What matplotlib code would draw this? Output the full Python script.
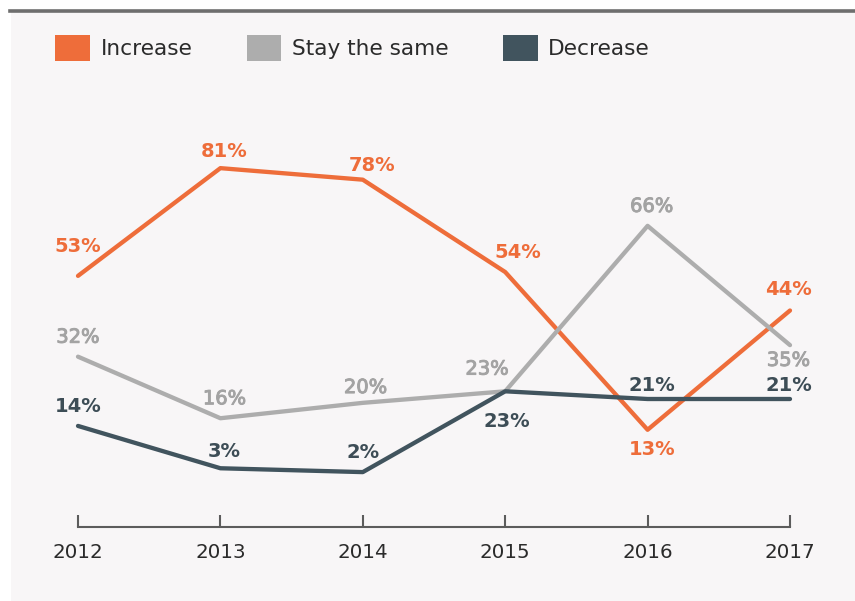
import matplotlib
matplotlib.use("Agg")
import matplotlib.pyplot as plt
import matplotlib.patheffects as pe
from matplotlib.patches import Patch, Rectangle
from matplotlib.lines import Line2D

# survey answers per year, in percent
years = [2012, 2013, 2014, 2015, 2016, 2017]
increase = [53, 81, 78, 54, 13, 44]
same = [32, 16, 20, 23, 66, 35]
decrease = [14, 3, 2, 23, 21, 21]

# label offsets (points) from each point
inc_off = [(0, 21), (3, 12), (7, 10), (9, 14), (3, -14), (-1, 15)]
same_off = [(0, 14), (3, 14), (2, 11), (-13, 16), (3, 14), (-1, -11)]
dec_off = [(0, 14), (3, 12), (0, 14), (1, -22), (3, 10), (-1, 10)]

orange = "#ee6d3a"
grey = "#adadad"
grey_txt = "#a3a3a3"
slate = "#41545e"
slate_txt = "#3d4d56"

plt.rcParams["font.family"] = ["DejaVu Sans"]

fig = plt.figure(figsize=(8.55, 6.01), dpi=100)
fig.patch.set_facecolor("white")
W, H = 855, 601

# light panel and dark rule on top
fig.add_artist(Rectangle((11 / W, 0), 1, 1 - 12 / H, transform=fig.transFigure,
                         facecolor="#f8f6f7", edgecolor="none", zorder=0))
fig.add_artist(Line2D([10 / W, 1], [1 - 11 / H] * 2, transform=fig.transFigure,
                      color="#6e6e6e", lw=2.6, zorder=1))

ax = fig.add_axes([0, 0, 1, 1])
ax.set_facecolor("none")
ax.set_xlim(2012 - 78 / 142.4, 2017 + 65 / 142.4)
ax.set_ylim(-31.5, 124.7)

series = [
    (increase, orange, orange, "bold", inc_off),
    (same, grey, grey_txt, "normal", same_off),
    (decrease, slate, slate_txt, "bold", dec_off),
]
for vals, col, tcol, wt, offs in series:
    ax.plot(years, vals, color=col, lw=3.1, solid_joinstyle="round",
            solid_capstyle="round", zorder=3)
for vals, col, tcol, wt, offs in series:
    # the grey labels are a touch heavier than regular weight
    fx = [pe.withStroke(linewidth=0.7, foreground=tcol)] if wt == "normal" else None
    for x, v, (dx, dy) in zip(years, vals, offs):
        ax.annotate(f"{v}%", (x, v), xytext=(dx, dy), textcoords="offset points",
                    ha="center", va="center", fontsize=14, fontweight=wt,
                    color=tcol, zorder=4, path_effects=fx)

for s in ["top", "left", "right"]:
    ax.spines[s].set_visible(False)
ax.spines["bottom"].set_position(("data", -12.3))
ax.spines["bottom"].set_bounds(2012, 2017)
ax.spines["bottom"].set_color("#5c5c5c")
ax.spines["bottom"].set_linewidth(1.5)
ax.set_xticks(years)
ax.set_xticklabels([str(y) for y in years])
ax.tick_params(axis="x", direction="in", length=8.6, width=1.5, color="#5c5c5c",
               pad=11.5, labelsize=14.3, labelcolor="#2b2b2b")
ax.set_yticks([])

handles = [Patch(facecolor=orange, label="Increase"),
           Patch(facecolor=grey, label="Stay the same"),
           Patch(facecolor=slate, label="Decrease")]
fig.legend(handles=handles, loc="center left", bbox_to_anchor=(55 / W, 1 - 48 / H),
           ncol=3, frameon=False, fontsize=15.6, handlelength=1.6, handleheight=1.54,
           handletextpad=0.5, columnspacing=2.5, borderpad=0, borderaxespad=0,
           labelcolor="#2b2b2b")

fig.savefig("out.png", dpi=100, facecolor=fig.get_facecolor())
